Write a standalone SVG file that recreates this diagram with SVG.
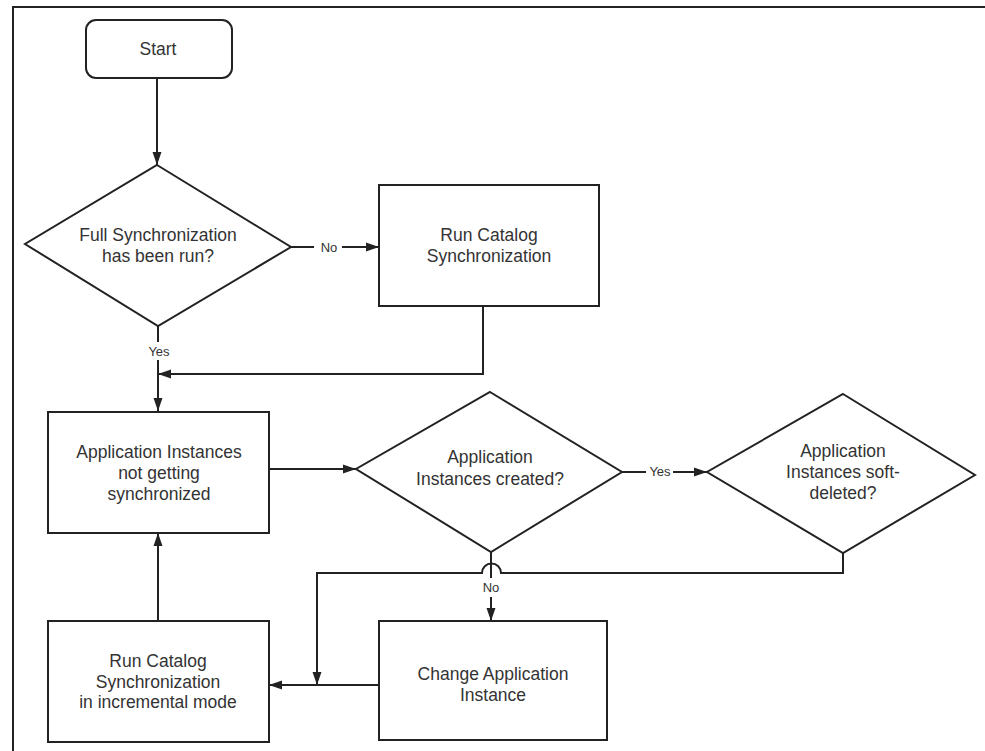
<svg xmlns="http://www.w3.org/2000/svg" width="985" height="751" viewBox="0 0 985 751">
<style>
.shape{fill:#fff;stroke:#222;stroke-width:2}
.t{font-family:"Liberation Sans",Arial,sans-serif;font-size:17.5px;fill:#333;text-anchor:middle}
.lbl{font-family:"Liberation Sans",Arial,sans-serif;font-size:13px;fill:#333;text-anchor:middle}
.c{fill:none;stroke:#222;stroke-width:2}
.a{marker-end:url(#arr)}
</style>
<defs>
<marker id="arr" markerUnits="userSpaceOnUse" markerWidth="14" markerHeight="10" refX="13" refY="5" orient="auto">
<path d="M0,0.5 L13,5 L0,9.5 z" fill="#222"/>
</marker>
</defs>
<rect x="13" y="7" width="1000" height="800" fill="#fff" stroke="#222" stroke-width="2"/>
<g id="connectors">
<path class="c a" d="M157,78 V165"/>
<path class="c" d="M291,247 H314"/>
<path class="c a" d="M342,247 H379"/>
<text class="lbl" x="329" y="252">No</text>
<path class="c" d="M158,326 V342"/>
<path class="c a" d="M158,360 V411"/>
<text class="lbl" x="159" y="356">Yes</text>
<path class="c a" d="M483,306 V374 H158"/>
<path class="c a" d="M269,469 H356"/>
<path class="c" d="M622,472 H646"/>
<path class="c a" d="M673,472 H707"/>
<text class="lbl" x="660" y="476">Yes</text>
<path class="c a" d="M843,553 V573 H501 A9.5,9.5 0 0 0 482,573 H317 V685"/>
<path class="c" d="M491,552 V578"/>
<path class="c a" d="M491,597 V621"/>
<text class="lbl" x="491" y="592">No</text>
<path class="c a" d="M379,685 H269"/>
<path class="c a" d="M158,621 V533"/>
</g>
<g id="start">
<rect class="shape" x="86" y="20" width="146" height="58" rx="10"/>
<text class="t" x="158" y="55">Start</text>
</g>
<g id="fullsync">
<polygon class="shape" points="157,165 291,247 158,326 25,244"/>
<text class="t" x="158" y="241">Full Synchronization</text>
<text class="t" x="158" y="262">has been run?</text>
</g>
<g id="runcatalog">
<rect class="shape" x="379" y="185" width="220" height="121"/>
<text class="t" x="489" y="241">Run Catalog</text>
<text class="t" x="489" y="262">Synchronization</text>
</g>
<g id="notsync">
<rect class="shape" x="48" y="412" width="221" height="121"/>
<text class="t" x="159" y="458">Application Instances</text>
<text class="t" x="159" y="479">not getting</text>
<text class="t" x="159" y="500">synchronized</text>
</g>
<g id="created">
<polygon class="shape" points="490,392 622,472 491,552 356,469"/>
<text class="t" x="490" y="463">Application</text>
<text class="t" x="490" y="485">Instances created?</text>
</g>
<g id="softdeleted">
<polygon class="shape" points="843,394 975,475 843,553 707,472"/>
<text class="t" x="843" y="457">Application</text>
<text class="t" x="843" y="478">Instances soft-</text>
<text class="t" x="843" y="499">deleted?</text>
</g>
<g id="change">
<rect class="shape" x="379" y="621" width="228" height="119"/>
<text class="t" x="493" y="680">Change Application</text>
<text class="t" x="493" y="701">Instance</text>
</g>
<g id="incremental">
<rect class="shape" x="48" y="621" width="221" height="121"/>
<text class="t" x="158" y="667">Run Catalog</text>
<text class="t" x="158" y="688">Synchronization</text>
<text class="t" x="158" y="708">in incremental mode</text>
</g>
</svg>
